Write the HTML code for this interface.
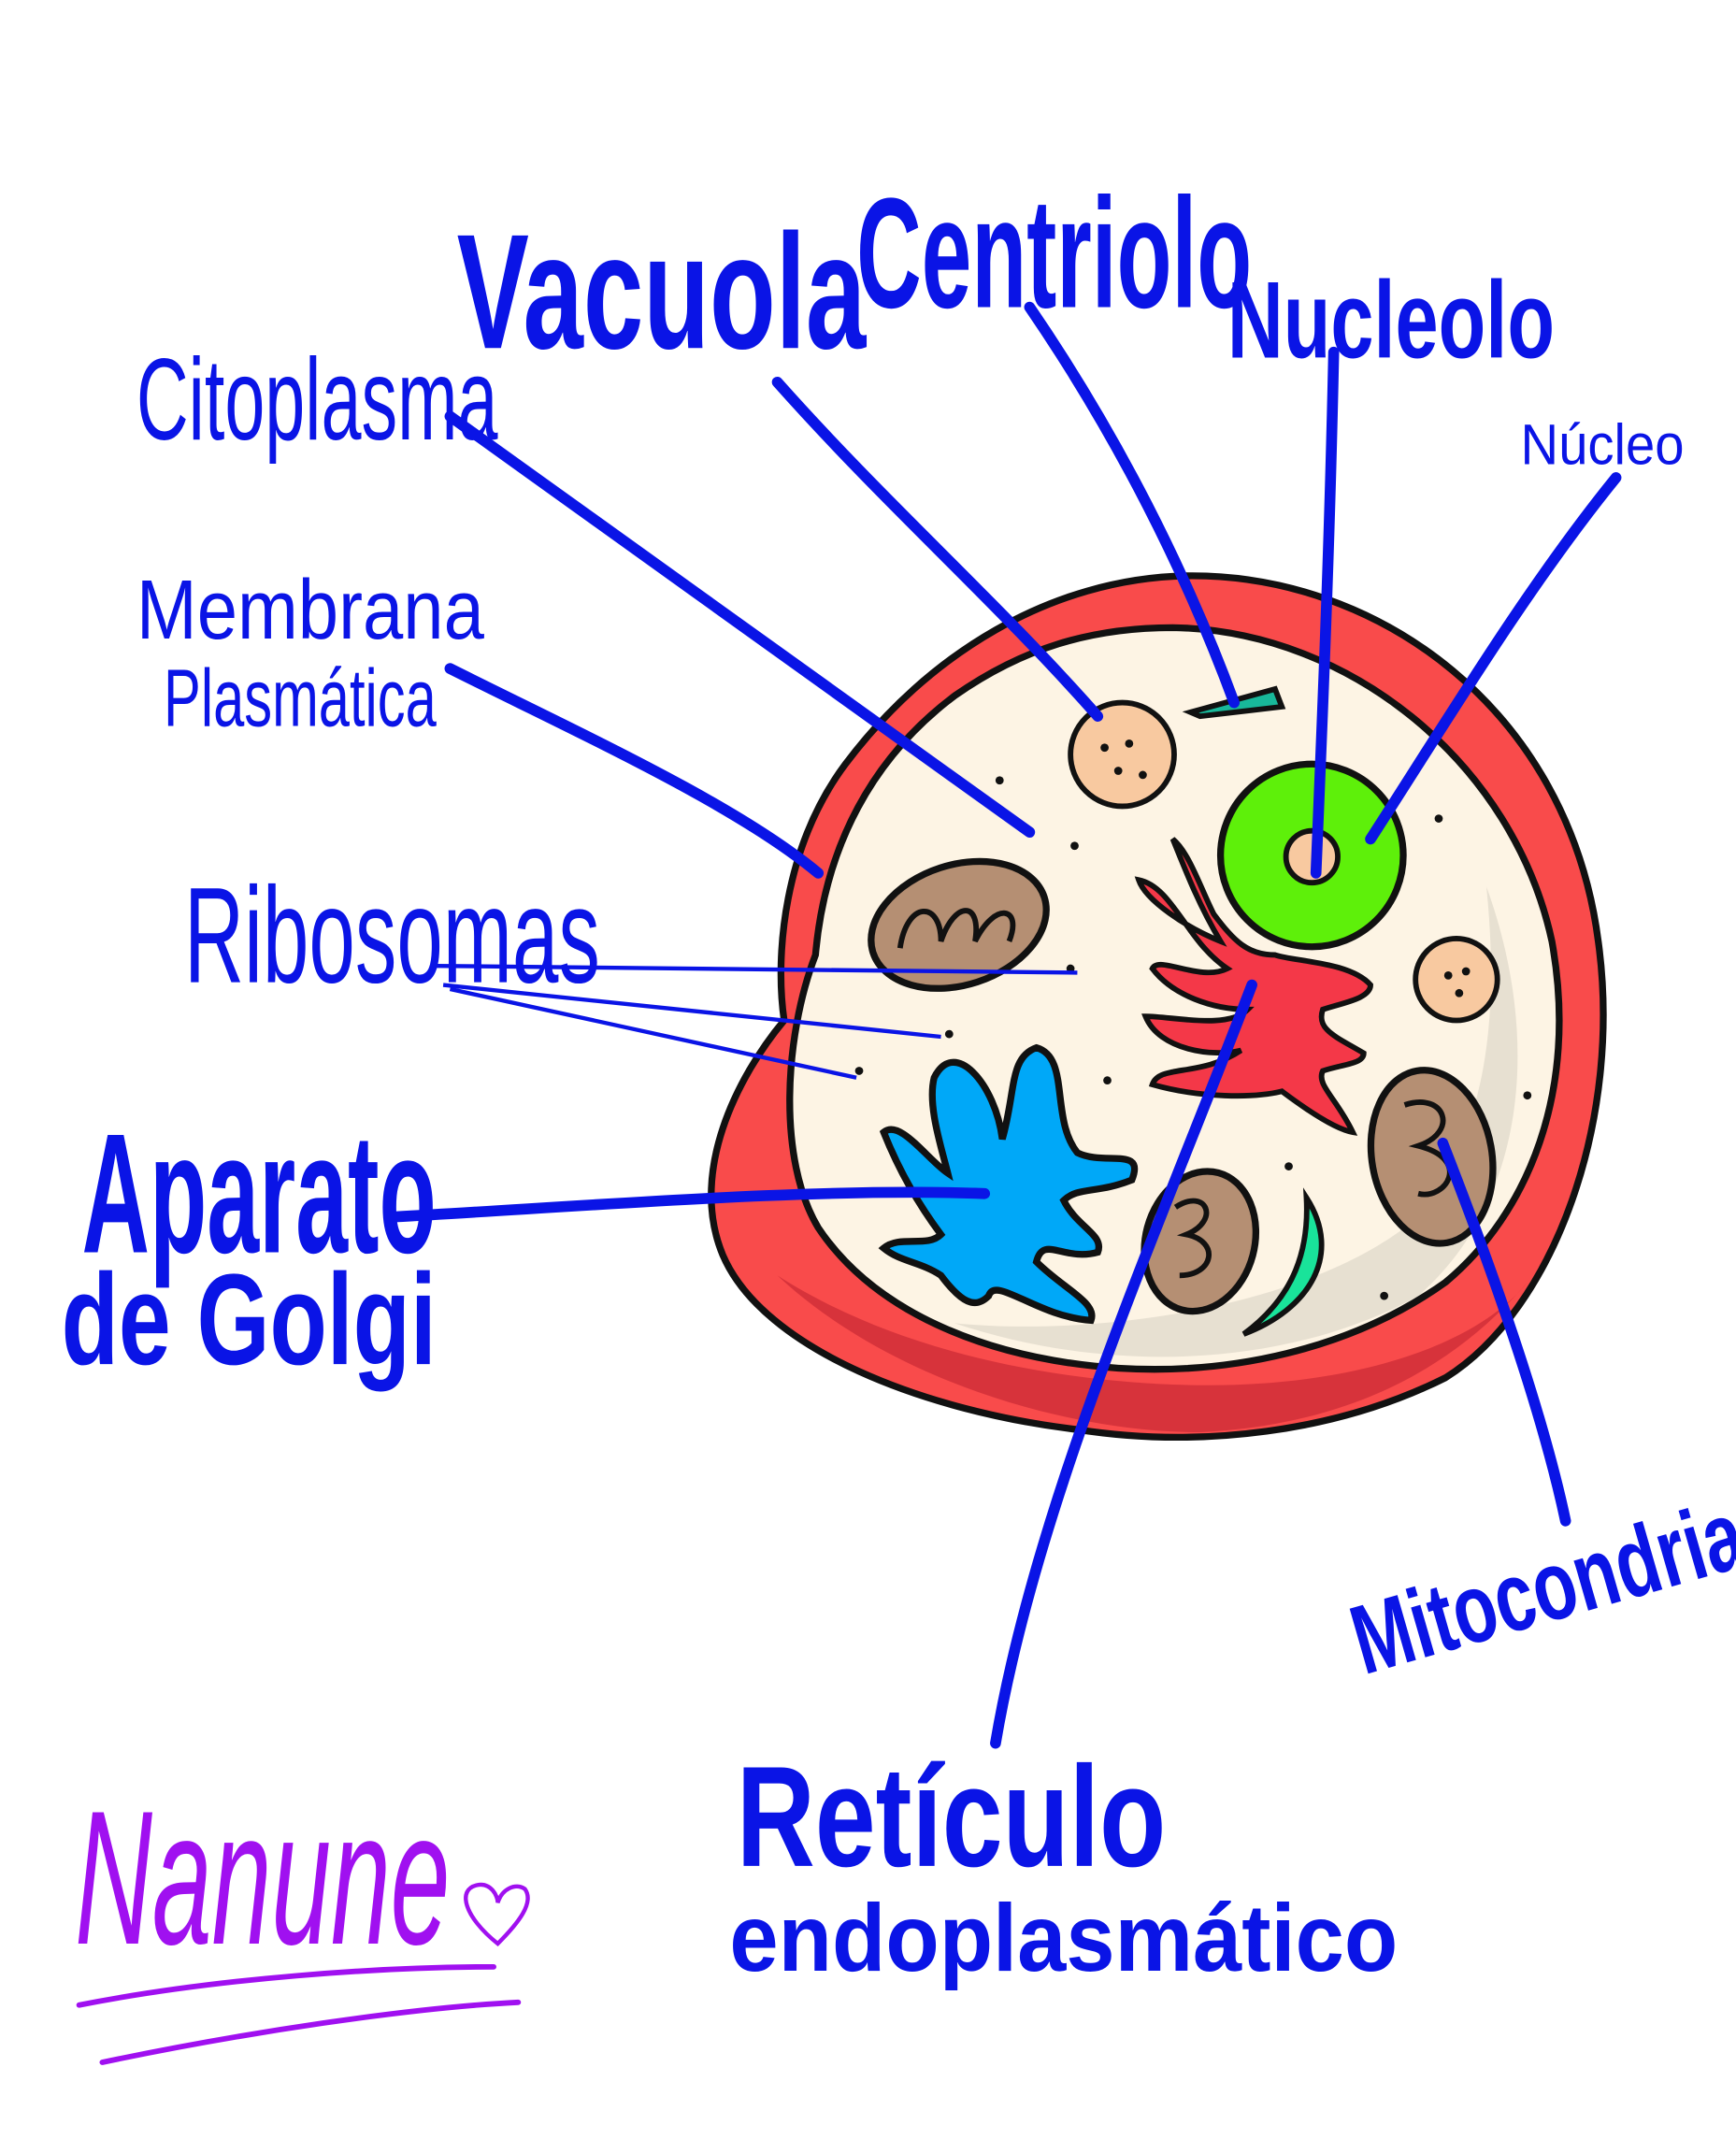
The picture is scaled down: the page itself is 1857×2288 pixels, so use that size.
<!DOCTYPE html>
<html><head><meta charset="utf-8"><style>
html,body{margin:0;padding:0;background:#fff;}
svg{display:block;}
text{font-family:"Liberation Sans",sans-serif;fill:#0a14e6;}
</style></head><body>
<svg width="1857" height="2288" viewBox="0 0 1273 1568" xmlns="http://www.w3.org/2000/svg">
<rect width="1273" height="1568" fill="#fff"/>
<path d="M870,422 C1010,420 1150,520 1172,690 C1190,820 1140,960 1060,1010 C980,1050 880,1062 790,1048 C680,1035 560,990 530,920 C505,860 540,790 575,748 C568,700 575,620 620,560 C680,480 770,424 870,422 Z" fill="#f94b4b" stroke="#111" stroke-width="5"/>
<path d="M570,935 C650,1010 780,1050 880,1050 C980,1045 1060,1010 1120,940 C1080,990 980,1020 860,1015 C740,1010 640,980 570,935Z" fill="#c92a35" opacity="0.7"/>
<path d="M860,460 C990,462 1110,560 1138,690 C1158,800 1120,890 1060,940 C990,990 900,1008 820,1003 C720,996 640,960 600,900 C570,850 575,760 598,700 C605,620 640,555 700,510 C750,475 800,460 860,460 Z" fill="#fdf4e4" stroke="#111" stroke-width="5"/>
<path d="M1090,650 C1130,760 1120,880 1040,950 C950,1000 820,1010 700,970 C800,980 950,960 1030,900 C1090,840 1100,750 1090,650Z" fill="#d9d2c4" opacity="0.6"/>
<circle cx="823" cy="553" r="38" fill="#f8c9a0" stroke="#111" stroke-width="4"/>
<circle cx="1068" cy="718" r="30" fill="#f8c9a0" stroke="#111" stroke-width="4"/>
<g fill="#111"><circle cx="810" cy="548" r="3"/><circle cx="828" cy="545" r="3"/><circle cx="820" cy="565" r="3"/><circle cx="838" cy="568" r="3"/><circle cx="1062" cy="715" r="3"/><circle cx="1075" cy="712" r="3"/><circle cx="1070" cy="728" r="3"/></g>
<path d="M873,522 L935,505 L940,518 L880,525Z" fill="#18b89a" stroke="#111" stroke-width="4"/>
<circle cx="962" cy="627" r="67" fill="#5ef00a" stroke="#111" stroke-width="5"/>
<circle cx="962" cy="628" r="19" fill="#f8c9a0" stroke="#111" stroke-width="4"/>
<ellipse cx="703" cy="678" rx="66" ry="44" transform="rotate(-18 703 678)" fill="#b58f73" stroke="#111" stroke-width="5"/>
<path d="M660,695 C665,660 690,660 690,690 C700,660 720,660 715,690 C730,660 750,665 740,690" fill="none" stroke="#111" stroke-width="4"/>
<ellipse cx="1050" cy="848" rx="44" ry="64" transform="rotate(-10 1050 848)" fill="#b58f73" stroke="#111" stroke-width="5"/>
<path d="M1030,810 C1060,800 1070,830 1040,840 C1080,850 1060,880 1040,875" fill="none" stroke="#111" stroke-width="4"/>
<ellipse cx="880" cy="910" rx="40" ry="52" transform="rotate(15 880 910)" fill="#b58f73" stroke="#111" stroke-width="5"/>
<path d="M862,885 C885,870 895,895 870,905 C895,910 890,935 865,935" fill="none" stroke="#111" stroke-width="4"/>
<path d="M958,878 C985,920 960,960 912,978 C950,950 960,915 958,878Z" fill="#19e39a" stroke="#111" stroke-width="4"/>
<path d="M860,615 C870,640 880,665 895,690 C870,680 840,660 835,645 C860,650 870,690 900,710 C880,720 850,700 845,710 C860,730 890,740 915,740 C900,755 860,745 840,745 C850,770 890,775 910,770 C880,790 850,780 845,795 C880,805 920,805 940,800 C960,815 980,828 992,830 C980,805 965,795 970,785 C985,780 1000,780 1000,772 C980,760 965,755 970,740 C985,735 1005,732 1005,722 C990,705 950,705 935,700 C915,700 905,690 890,670 C880,650 872,625 860,615Z" fill="#f43848" stroke="#111" stroke-width="4"/>
<path d="M685,790 C700,760 730,795 735,835 C745,800 740,775 760,768 C785,775 770,820 790,845 C810,855 840,840 830,865 C805,875 790,870 780,880 C790,900 810,905 805,918 C780,925 765,905 760,925 C780,945 805,955 800,968 C760,965 730,935 725,950 C715,960 705,955 690,935 C675,925 660,925 648,915 C660,905 680,915 690,905 C675,885 660,860 648,830 C660,820 680,850 695,860 C690,840 680,810 685,790Z" fill="#00a8f8" stroke="#111" stroke-width="5"/>
<g fill="#111"><circle cx="733" cy="572" r="3"/><circle cx="788" cy="620" r="3"/><circle cx="785" cy="710" r="3"/><circle cx="696" cy="758" r="3"/><circle cx="630" cy="785" r="3"/><circle cx="812" cy="792" r="3"/><circle cx="945" cy="855" r="3"/><circle cx="1015" cy="950" r="3"/><circle cx="1120" cy="803" r="3"/><circle cx="1055" cy="600" r="3"/></g>
<g fill="none" stroke="#0a14e6" stroke-width="8" stroke-linecap="round">
<path d="M330,305 L755,610"/>
<path d="M570,280 C650,370 730,440 805,525"/>
<path d="M755,225 C820,320 870,420 905,515"/>
<path d="M978,258 C975,400 970,520 965,640"/>
<path d="M1185,350 C1120,430 1060,530 1005,615"/>
<path d="M330,490 C430,540 540,590 600,640"/>
<path d="M290,892 C420,885 600,870 722,875"/>
<path d="M918,722 C850,900 760,1100 730,1278"/>
<path d="M1058,838 C1090,920 1130,1030 1148,1115"/>
</g>
<g fill="none" stroke="#0a14e6" stroke-width="3">
<path d="M320,708 L790,713"/><path d="M325,722 L690,760"/><path d="M330,725 L628,790"/>
</g>
<text x="100" y="322" font-size="85" textLength="265" lengthAdjust="spacingAndGlyphs">Citoplasma</text>
<text x="335" y="255" font-size="120" font-weight="bold" textLength="300" lengthAdjust="spacingAndGlyphs">Vacuola</text>
<text x="628" y="225" font-size="115" font-weight="bold" textLength="290" lengthAdjust="spacingAndGlyphs">Centriolo</text>
<text x="900" y="262" font-size="80" font-weight="bold" textLength="240" lengthAdjust="spacingAndGlyphs">Nucleolo</text>
<text x="1115" y="340" font-size="42" textLength="120" lengthAdjust="spacingAndGlyphs">Núcleo</text>
<text x="100" y="468" font-size="62" textLength="255" lengthAdjust="spacingAndGlyphs">Membrana</text>
<text x="120" y="532" font-size="60" textLength="200" lengthAdjust="spacingAndGlyphs">Plasmática</text>
<text x="135" y="720" font-size="100" textLength="305" lengthAdjust="spacingAndGlyphs">Ribosomas</text>
<text x="60" y="918" font-size="125" font-weight="bold" textLength="260" lengthAdjust="spacingAndGlyphs">Aparato</text>
<text x="45" y="1000" font-size="95" font-weight="bold" textLength="275" lengthAdjust="spacingAndGlyphs">de Golgi</text>
<text x="1000" y="1228" font-size="72" font-weight="bold" textLength="295" lengthAdjust="spacingAndGlyphs" transform="rotate(-16 1000 1228)">Mitocondria</text>
<text x="540" y="1368" font-size="105" font-weight="bold" textLength="315" lengthAdjust="spacingAndGlyphs">Retículo</text>
<text x="535" y="1445" font-size="70" font-weight="bold" textLength="490" lengthAdjust="spacingAndGlyphs">endoplasmático</text>
<text x="55" y="1425" font-size="140" textLength="275" lengthAdjust="spacingAndGlyphs" style="fill:#a010f0;font-style:italic">Nanune</text>
<path d="M365,1425 C340,1405 335,1385 350,1382 C360,1380 365,1390 365,1395 C368,1385 378,1380 385,1385 C392,1395 380,1410 365,1425Z" fill="none" stroke="#a010f0" stroke-width="3"/>
<g fill="none" stroke="#a010f0" stroke-width="4" stroke-linecap="round">
<path d="M58,1470 C160,1450 280,1442 362,1442"/>
<path d="M75,1512 C180,1490 300,1472 380,1468"/>
</g>
</svg>
</body></html>
